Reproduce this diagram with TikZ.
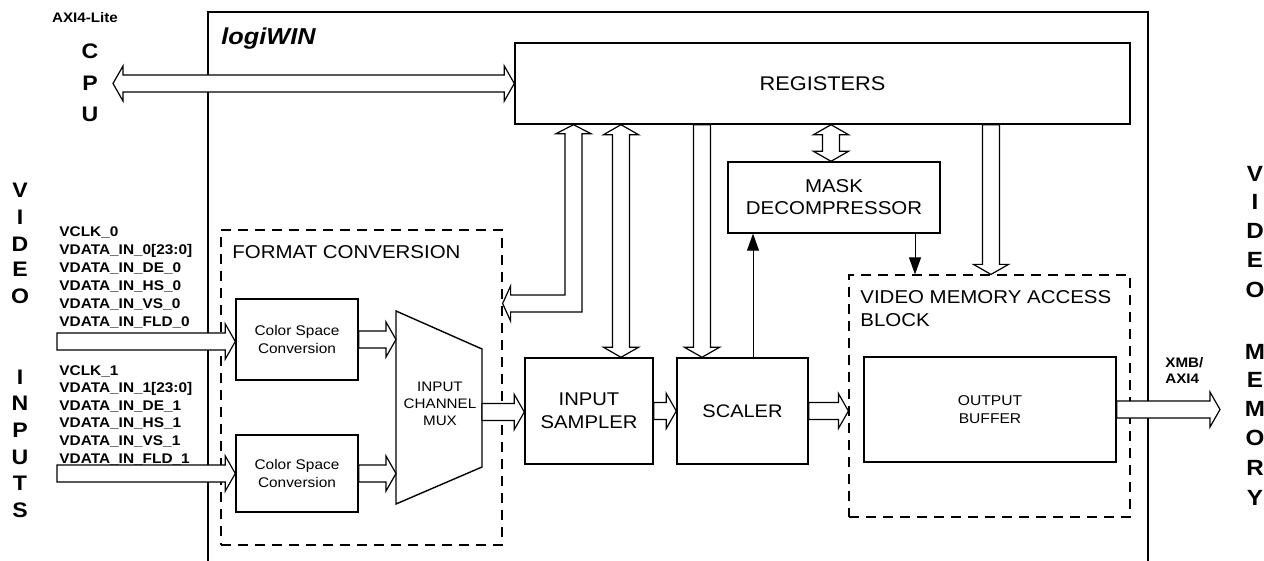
\documentclass[tikz,border=0pt]{standalone}
\usepackage{fontspec}
\setmainfont{Liberation Sans}[FakeStretch=1.1]
\usetikzlibrary{calc,arrows.meta}
\newcommand\myfs[2]{\fontsize{#1}{#2}\selectfont}
\begin{document}
\begin{tikzpicture}[x=0.5pt,y=-0.5pt,
  frame/.style={line width=1.2pt},
  box/.style={draw, line width=0.7pt, inner sep=0pt, align=center},
  dbox/.style={draw, line width=0.6pt, dash pattern=on 5pt off 3.5pt, inner sep=0pt},
  lbl/.style={inner sep=0pt},
  big/.style={inner sep=0pt, font=\myfs{10.5}{12}\bfseries},
  bigr/.style={inner sep=0pt, font=\myfs{11}{12}\bfseries},
  sig/.style={inner sep=0pt, anchor=base west, font=\myfs{7}{8}\bfseries},
  thinarrow/.style={line width=0.5pt, -{Triangle[length=8.5pt,width=6pt]}},
  hollow/.style={draw, line width=0.6pt, fill=white, to path={
    let \p1=(\tikztostart), \p2=(\tikztotarget),
        \n1={atan2(\y2-\y1,\x2-\x1)}, \n2={veclen(\x2-\x1,\y2-\y1)} in
    ([shift={(\p1)},rotate=\n1]0pt,-4.25pt)
    -- ([shift={(\p1)},rotate=\n1]\n2-5pt,-4.25pt)
    -- ([shift={(\p1)},rotate=\n1]\n2-5pt,-8.75pt)
    -- ([shift={(\p1)},rotate=\n1]\n2,0pt)
    -- ([shift={(\p1)},rotate=\n1]\n2-5pt,8.75pt)
    -- ([shift={(\p1)},rotate=\n1]\n2-5pt,4.25pt)
    -- ([shift={(\p1)},rotate=\n1]0pt,4.25pt) -- cycle}},
  hollowboth/.style={draw, line width=0.6pt, fill=white, to path={
    let \p1=(\tikztostart), \p2=(\tikztotarget),
        \n1={atan2(\y2-\y1,\x2-\x1)}, \n2={veclen(\x2-\x1,\y2-\y1)} in
    ([shift={(\p1)},rotate=\n1]0pt,0pt)
    -- ([shift={(\p1)},rotate=\n1]5pt,-8.75pt)
    -- ([shift={(\p1)},rotate=\n1]5pt,-4.25pt)
    -- ([shift={(\p1)},rotate=\n1]\n2-5pt,-4.25pt)
    -- ([shift={(\p1)},rotate=\n1]\n2-5pt,-8.75pt)
    -- ([shift={(\p1)},rotate=\n1]\n2,0pt)
    -- ([shift={(\p1)},rotate=\n1]\n2-5pt,8.75pt)
    -- ([shift={(\p1)},rotate=\n1]\n2-5pt,4.25pt)
    -- ([shift={(\p1)},rotate=\n1]5pt,4.25pt)
    -- ([shift={(\p1)},rotate=\n1]5pt,8.75pt) -- cycle}}]

\useasboundingbox (0,0) rectangle (1264,561);
\fill[white] (0,0) rectangle (1264,561);

% outer frame (open at the bottom)
\draw[frame] (208,561) -- (208,12) -- (1148,12) -- (1148,561);
\node[lbl, anchor=base west, font=\myfs{11.5}{13}\bfseries\itshape] (title) at (221,45) {logiWIN};

% dashed groups
\node[dbox, minimum width=140.5pt, minimum height=157.5pt] (fc) at (361.5,387.5) {};
\node[dbox, minimum width=140.5pt, minimum height=121pt] (vma) at (989.5,396) {};
\node[lbl, anchor=west, font=\myfs{9.3}{11}] (fclbl) at (232,252) {FORMAT CONVERSION};
\node[lbl, anchor=north west, align=left, font=\myfs{9.3}{11.5}] (vmalbl) at (860,290.5) {VIDEO MEMORY ACCESS\\BLOCK};

% blocks
\node[box, minimum width=307.5pt, minimum height=40.5pt, font=\myfs{9.9}{12}] (reg) at (822.5,83.5) {REGISTERS};
\node[box, minimum width=106pt, minimum height=35.5pt, font=\myfs{9.3}{11}] (mask) at (834,197.5) {MASK\\DECOMPRESSOR};
\node[box, minimum width=61pt, minimum height=40.5pt, font=\myfs{7}{9}] (cs1) at (297,339.5) {Color Space\\Conversion};
\node[box, minimum width=61pt, minimum height=38.5pt, font=\myfs{7}{9}] (cs2) at (297,473.5) {Color Space\\Conversion};
\node[box, minimum width=64pt, minimum height=53pt, font=\myfs{9.2}{11.5}] (sampler) at (589,411) {INPUT\\SAMPLER};
\node[box, minimum width=65.5pt, minimum height=53pt, font=\myfs{9.1}{11}] (scaler) at (742.5,411) {SCALER};
\node[box, minimum width=126pt, minimum height=52.5pt, font=\myfs{7.1}{9}] (outbuf) at (990,409.5) {OUTPUT\\BUFFER};

% multiplexer
\draw[line width=0.7pt] (396,311) -- (482,349) -- (482,467) -- (396,504) -- cycle;
\node[lbl, align=center, font=\myfs{6.9}{8.5}] (mux) at (440,404) {INPUT\\CHANNEL\\MUX};
\coordinate (muxin0) at (396,339.5);
\coordinate (muxin1) at (396,473.5);
\coordinate (muxout) at (482,412);

% hollow bus arrows
\coordinate (cpu) at (113,83.5);
\draw[hollowboth] (cpu) to (reg.west);
\coordinate (in0) at (57,341.5);
\draw[hollow] (in0) to (in0 -| cs1.west);
\coordinate (in1) at (57,473.5);
\draw[hollow] (in1) to (cs2.west);
\draw[hollow] (cs1.east) to (muxin0);
\draw[hollow] (cs2.east) to (muxin1);
\draw[hollow] (muxout) to (muxout -| sampler.west);
\draw[hollow] (sampler.east) to (scaler.west);
\draw[hollow] (scaler.east) to (scaler.east -| vma.west);
\coordinate (memout) at (1220,409.5);
\draw[hollow] (outbuf.east) to (memout);
\draw[hollowboth] (reg.south -| 621,0) to (sampler.north -| 621,0);
\draw[hollow] (reg.south -| 702,0) to (scaler.north -| 702,0);
\draw[hollowboth] (reg.south -| 831,0) to (mask.north -| 831,0);
\draw[hollow] (reg.south -| 991,0) to (vma.north -| 991,0);

% L-shaped bus from registers to format conversion
\coordinate (ltop) at (reg.south -| 573.5,0);
\coordinate (fcin) at (fc.east |- 0,303.5);
\draw[line width=0.6pt, fill=white] (ltop) -- ++(17.5,9) -- ++(-9,0)
  |- ($(fcin)+(8,8.5)$) -- ++(0,9) -- (fcin) -- ++(8,-17.5) -- ++(0,9)
  -| ($(ltop)+(-8.5,9)$) -- ++(-9,0) -- cycle;

% thin control arrows
\draw[thinarrow] (scaler.north -| 753,0) -- (mask.south -| 753,0);
\draw[thinarrow] (mask.south -| 915,0) -- (vma.north -| 915,0);

% external labels
\node[lbl, font=\myfs{6.9}{8}\bfseries] (axi) at (85,18) {AXI4-Lite};
\node[big] (cpuC) at (90,51) {C};
\node[big] (cpuP) at (90,83) {P};
\node[big] (cpuU) at (90,114) {U};
\node[lbl, anchor=west, align=left, font=\myfs{6.9}{8}\bfseries] (xmb) at (1165,370) {XMB/\\AXI4};

\foreach \t/\y [count=\i] in {VCLK\_0/237, {VDATA\_IN\_0[23:0]}/255, VDATA\_IN\_DE\_0/273,
    VDATA\_IN\_HS\_0/291, VDATA\_IN\_VS\_0/309, VDATA\_IN\_FLD\_0/327}
  \node[sig] (sa\i) at (59,\y) {\t};
\foreach \t/\y [count=\i] in {VCLK\_1/375, {VDATA\_IN\_1[23:0]}/392.6, VDATA\_IN\_DE\_1/410.2,
    VDATA\_IN\_HS\_1/427.8, VDATA\_IN\_VS\_1/445.4, VDATA\_IN\_FLD\_1/463}
  \node[sig] (sb\i) at (59,\y) {\t};

\foreach \l/\y [count=\i] in {V/190, I/217, D/244, E/269, O/296, I/377, N/403, P/430, U/457, T/483, S/510}
  \node[big] (vin\i) at (20,\y) {\l};
\foreach \l/\y [count=\i] in {V/174, I/202, D/231, E/260, O/290, M/352, E/380, M/409, O/438, R/468, Y/498}
  \node[bigr] (vmem\i) at (1255,\y) {\l};
\end{tikzpicture}
\end{document}
